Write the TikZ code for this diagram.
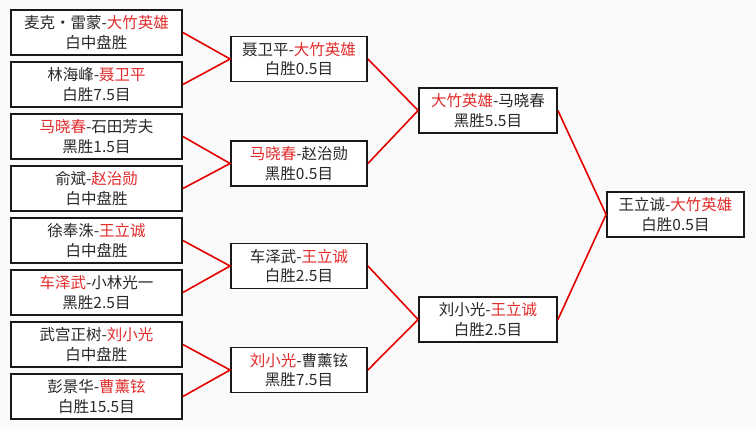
\documentclass[tikz,border=0pt]{standalone}
\usepackage{fontspec}
\setmainfont{Noto Sans CJK SC}
\definecolor{bgc}{RGB}{250,250,250}
\definecolor{txtc}{RGB}{40,40,40}
\definecolor{hlc}{RGB}{226,44,44}
\definecolor{linec}{RGB}{228,0,0}
\newcommand\redtxt[1]{\textcolor{hlc}{#1}}
\begin{document}
\begin{tikzpicture}[x=1pt,y=-1pt,
  box/.style={draw=black!90, line width=1.8pt, fill=white, inner sep=0pt,
    minimum height=45pt, align=center, text=txtc,
    font=\fontsize{15.5}{19.5}\selectfont},
  w1/.style={box, minimum width=171pt},
  w2/.style={box, minimum width=136pt},
  w3/.style={box, minimum width=138pt},
  link/.style={draw=linec, line width=1.6pt}]
\fill[bgc] (0,0) rectangle (756,429);
\useasboundingbox (0,0) rectangle (756,429);
% round 1
\node[w1] (r1a) at (96.5,32.5)  {麦克・雷蒙-\redtxt{大竹英雄}\\白中盘胜};
\node[w1] (r1b) at (96.5,84.5)  {林海峰-\redtxt{聂卫平}\\白胜7.5目};
\node[w1] (r1c) at (96.5,136.5) {\redtxt{马晓春}-石田芳夫\\黑胜1.5目};
\node[w1] (r1d) at (96.5,188.5) {俞斌-\redtxt{赵治勋}\\白中盘胜};
\node[w1] (r1e) at (96.5,240.5) {徐奉洙-\redtxt{王立诚}\\白中盘胜};
\node[w1] (r1f) at (96.5,292.5) {\redtxt{车泽武}-小林光一\\黑胜2.5目};
\node[w1] (r1g) at (96.5,344.5) {武宫正树-\redtxt{刘小光}\\白中盘胜};
\node[w1] (r1h) at (96.5,396.5) {彭景华-\redtxt{曹薰铉}\\白胜15.5目};
% round 2
\node[w2] (r2a) at (299,59)    {聂卫平-\redtxt{大竹英雄}\\白胜0.5目};
\node[w2] (r2b) at (299,163.5) {\redtxt{马晓春}-赵治勋\\黑胜0.5目};
\node[w2] (r2c) at (299,266)   {车泽武-\redtxt{王立诚}\\白胜2.5目};
\node[w2] (r2d) at (299,370)   {\redtxt{刘小光}-曹薰铉\\黑胜7.5目};
% round 3
\node[w3] (r3a) at (488,110.5) {\redtxt{大竹英雄}-马晓春\\黑胜5.5目};
\node[w3] (r3b) at (488,319.5) {刘小光-\redtxt{王立诚}\\白胜2.5目};
% final
\node[w3, minimum width=137pt] (fin) at (675.5,214.5) {王立诚-\redtxt{大竹英雄}\\白胜0.5目};
% connectors
\draw[link] (r1a.east) -- (r2a.west) -- (r1b.east);
\draw[link] (r1c.east) -- (r2b.west) -- (r1d.east);
\draw[link] (r1e.east) -- (r2c.west) -- (r1f.east);
\draw[link] (r1g.east) -- (r2d.west) -- (r1h.east);
\draw[link] (r2a.east) -- (r3a.west) -- (r2b.east);
\draw[link] (r2c.east) -- (r3b.west) -- (r2d.east);
\draw[link] (r3a.east) -- (fin.west) -- (r3b.east);
\end{tikzpicture}
\end{document}
